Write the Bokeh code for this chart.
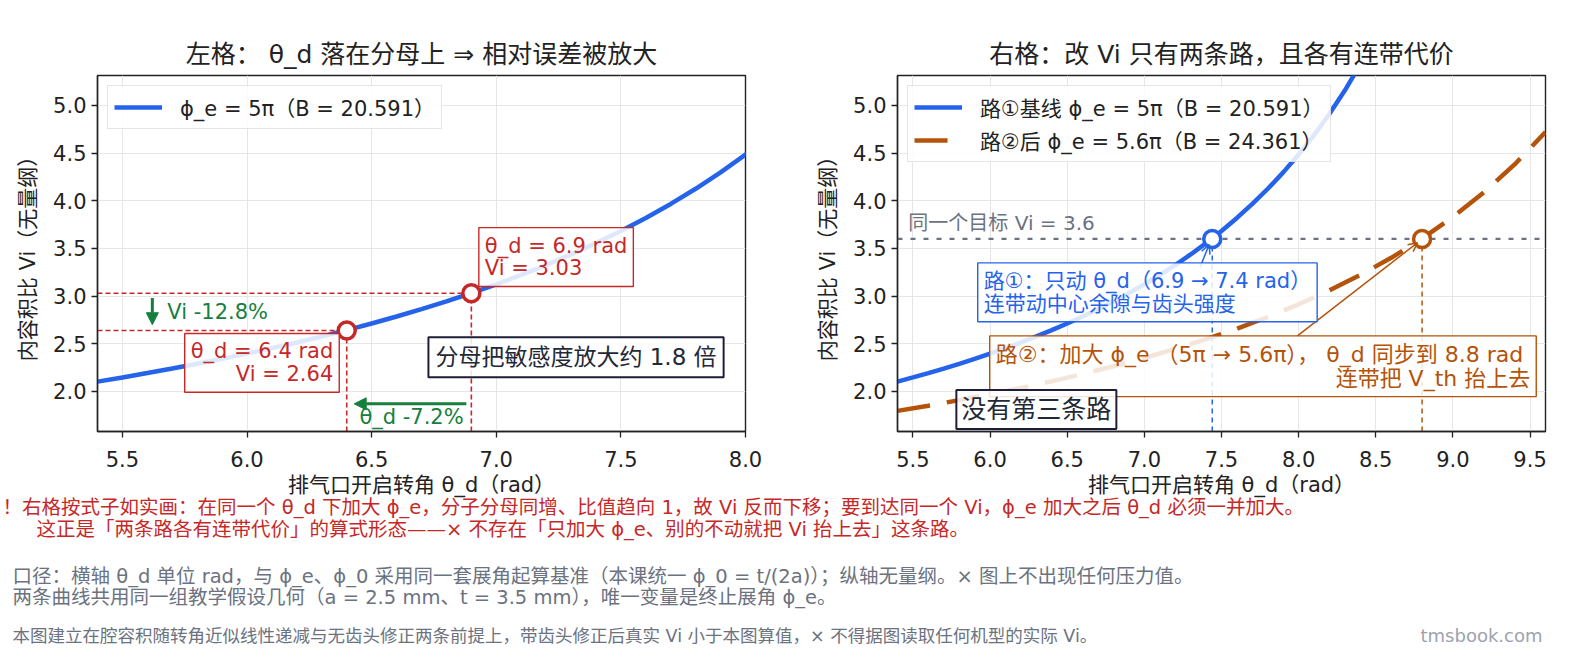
from bokeh.plotting import figure
from bokeh.models import Label, Arrow, NormalHead, OpenHead, Range1d, SingleIntervalTicker, NumeralTickFormatter
from bokeh.layouts import column, row
from bokeh.embed import file_html
from bokeh.resources import INLINE

FONT = "DejaVu Sans, Noto Sans CJK SC"
BLUE = "#2563eb"
ORANGE = "#b45309"
RED = "#c62828"
GREEN = "#15803d"
GRAY = "#6b7280"
INK = "#1f2937"

# 路① 基线 phi_e = 5pi 的曲线
theta_base = [5.4, 5.5, 5.6, 5.7, 5.8, 5.9, 6.0, 6.1, 6.2, 6.3, 6.4, 6.5, 6.6, 6.7, 6.8,
              6.9, 7.0, 7.1, 7.2, 7.3, 7.4, 7.5, 7.6, 7.7, 7.8, 7.9, 8.0, 8.1, 8.2, 8.3, 8.4]
vi_base = [2.103, 2.147, 2.193, 2.240, 2.290, 2.342, 2.397, 2.454, 2.514, 2.577, 2.643,
           2.713, 2.786, 2.863, 2.945, 3.032, 3.124, 3.222, 3.326, 3.437, 3.556, 3.683,
           3.820, 3.967, 4.126, 4.298, 4.485, 4.689, 4.913, 5.159, 5.432]

# 路② phi_e = 5.6pi
theta_wide = [5.4, 5.6, 5.8, 6.0, 6.2, 6.4, 6.6, 6.8, 7.0, 7.2, 7.4, 7.6, 7.8, 8.0,
              8.2, 8.4, 8.6, 8.8, 9.0, 9.2, 9.4, 9.6]
vi_wide = [1.796, 1.851, 1.909, 1.971, 2.037, 2.107, 2.183, 2.264, 2.351, 2.446, 2.548,
           2.659, 2.781, 2.914, 3.060, 3.222, 3.402, 3.603, 3.830, 4.087, 4.381, 4.720]

# 左格两个标注点
left_theta = [6.4, 6.9]
left_vi = [2.64, 3.03]

# 右格：同一个目标 Vi
target_vi = 3.6
path_theta = [7.44, 8.8]

Y_LO, Y_HI = 1.58, 5.314


def style(p, xlabel):
    p.title.text_font = FONT
    p.title.text_font_size = "25px"
    p.title.text_font_style = "normal"
    p.title.text_color = "#222222"
    p.title.align = "center"
    p.title.standoff = 14
    p.outline_line_color = "#222222"
    p.outline_line_width = 1.4
    for ax in p.axis:
        ax.major_label_text_font = FONT
        ax.major_label_text_font_size = "21px"
        ax.major_label_text_color = "#222222"
        ax.axis_label_text_font = FONT
        ax.axis_label_text_font_size = "21px"
        ax.axis_label_text_font_style = "normal"
        ax.axis_label_text_color = "#222222"
        ax.axis_line_color = "#222222"
        ax.axis_line_width = 1.4
        ax.major_tick_line_color = "#222222"
        ax.major_tick_line_width = 1.3
        ax.major_tick_out = 6
        ax.major_tick_in = 0
        ax.minor_tick_line_color = None
        ax.formatter = NumeralTickFormatter(format="0.0")
        ax.ticker = SingleIntervalTicker(interval=0.5)
    p.xaxis.axis_label = xlabel
    p.yaxis.axis_label = "内容积比 Vi（无量纲）"
    p.xaxis.major_label_standoff = 13
    p.yaxis.major_label_standoff = 5
    p.xaxis.axis_label_standoff = 3
    p.yaxis.axis_label_standoff = 10
    p.grid.grid_line_color = "#e6e6e6"
    p.grid.grid_line_width = 1


def box(p, x, y, text, color, align="left", size="21px", border=1.4, border_color=None, pad=6):
    lab = Label(x=x, y=y, text=text, text_font=FONT, text_font_size=size, text_color=color,
                text_align=align, text_baseline="middle", text_line_height=0.95,
                background_fill_color="white", background_fill_alpha=0.85,
                border_line_color=border_color or color, border_line_width=border, padding=pad)
    p.add_layout(lab)


def legend_style(p):
    lg = p.legend[0]
    lg.location = "top_left"
    lg.label_text_font = FONT
    lg.label_text_font_size = "21px"
    lg.label_text_color = "#222222"
    lg.glyph_width = 48
    lg.label_standoff = 18
    lg.border_line_color = "#cccccc"
    lg.border_line_width = 1.3
    lg.background_fill_alpha = 0.85
    lg.padding = 6
    lg.spacing = 3
    lg.margin = 10


# ---------------- 左格 ----------------
p1 = figure(width=808, height=512, x_range=Range1d(5.4, 8.0), y_range=Range1d(Y_LO, Y_HI),
            output_backend="svg", toolbar_location=None,
            title="左格： θ_d 落在分母上 ⇒ 相对误差被放大",
            min_border_left=97, min_border_right=63, min_border_top=75, min_border_bottom=81)
style(p1, "排气口开启转角 θ_d（rad）")

p1.line(theta_base, vi_base, line_color=BLUE, line_width=4.5, legend_label="ϕ_e = 5π（B = 20.591）")
p1.segment(x0=[5.4] * 2, y0=left_vi, x1=left_theta, y1=left_vi,
           line_color=RED, line_width=1.6, line_dash="5 3")
p1.segment(x0=left_theta, y0=[Y_LO] * 2, x1=left_theta, y1=left_vi,
           line_color=RED, line_width=1.6, line_dash="5 3")
p1.scatter(left_theta, left_vi, size=17, marker="circle", fill_color="white",
           line_color=RED, line_width=3.5)

box(p1, 6.93, 3.41, "θ_d = 6.9 rad\nVi = 3.03", RED)
box(p1, 6.37, 2.30, "θ_d = 6.4 rad\nVi = 2.64", RED, align="right")
box(p1, 7.32, 2.36, "分母把敏感度放大约 1.8 倍", INK, align="center", size="23px",
    border=2, border_color="#1e1e3a", pad=7)

p1.add_layout(Arrow(end=NormalHead(size=12, fill_color=GREEN, line_color=GREEN),
                    x_start=5.62, y_start=2.98, x_end=5.62, y_end=2.70,
                    line_color=GREEN, line_width=3))
p1.add_layout(Label(x=5.68, y=2.83, text="Vi -12.8%", text_font=FONT, text_font_size="21px",
                    text_color=GREEN, text_baseline="middle"))
p1.add_layout(Arrow(end=NormalHead(size=12, fill_color=GREEN, line_color=GREEN),
                    x_start=6.88, y_start=1.87, x_end=6.43, y_end=1.87,
                    line_color=GREEN, line_width=3))
p1.add_layout(Label(x=6.66, y=1.73, text="θ_d -7.2%", text_font=FONT, text_font_size="21px",
                    text_color=GREEN, text_align="center", text_baseline="middle"))
legend_style(p1)

# ---------------- 右格 ----------------
p2 = figure(width=759, height=512, x_range=Range1d(5.4, 9.6), y_range=Range1d(Y_LO, Y_HI),
            output_backend="svg", toolbar_location=None,
            title="右格：改 Vi 只有两条路，且各有连带代价",
            min_border_left=89, min_border_right=22, min_border_top=75, min_border_bottom=81)
style(p2, "排气口开启转角 θ_d（rad）")

p2.line([5.4, 9.6], [target_vi, target_vi], line_color=GRAY, line_width=2.2, line_dash="5 8")
p2.line(theta_base, vi_base, line_color=BLUE, line_width=4.5,
        legend_label="路①基线 ϕ_e = 5π（B = 20.591）")
p2.line(theta_wide, vi_wide, line_color=ORANGE, line_width=4.5, line_dash="33 17",
        legend_label="路②后 ϕ_e = 5.6π（B = 24.361）")
p2.segment(x0=path_theta[:1], y0=[Y_LO], x1=path_theta[:1], y1=[target_vi],
           line_color=BLUE, line_width=1.5, line_dash="5 4")
p2.segment(x0=path_theta[1:], y0=[Y_LO], x1=path_theta[1:], y1=[target_vi],
           line_color=ORANGE, line_width=1.5, line_dash="5 4")
p2.scatter(path_theta[:1], [target_vi], size=17, marker="circle", fill_color="white",
           line_color=BLUE, line_width=3.5)
p2.scatter(path_theta[1:], [target_vi], size=17, marker="circle", fill_color="white",
           line_color=ORANGE, line_width=3.5)

p2.add_layout(Label(x=5.47, y=3.77, text="同一个目标 Vi = 3.6", text_font=FONT,
                    text_font_size="20px", text_color=GRAY, text_baseline="middle"))
p2.add_layout(Arrow(end=OpenHead(size=9, line_color=BLUE, line_width=1.5),
                    x_start=7.36, y_start=3.30, x_end=7.42, y_end=3.54,
                    line_color=BLUE, line_width=1.5))
p2.add_layout(Arrow(end=OpenHead(size=9, line_color=ORANGE, line_width=1.5),
                    x_start=7.99, y_start=2.58, x_end=8.77, y_end=3.56,
                    line_color=ORANGE, line_width=1.5))
box(p2, 5.92, 3.04, "路①：只动 θ_d（6.9 → 7.4 rad）\n连带动中心余隙与齿头强度", BLUE)
box(p2, 9.54, 2.264, "路②：加大 ϕ_e （5π → 5.6π），  θ_d 同步到 8.8 rad\n连带把 V_th 抬上去",
    ORANGE, align="right", size="22px")
box(p2, 6.30, 1.81, "没有第三条路", INK, align="center", size="25px",
    border=2, border_color="#1e1e3a", pad=5)
legend_style(p2)

# ---------------- 脚注 ----------------
notes = figure(width=1567, height=170, x_range=Range1d(0, 1567), y_range=Range1d(0, 170),
               output_backend="svg", toolbar_location=None, x_axis_type=None, y_axis_type=None,
               min_border=0, outline_line_color=None, margin=(-24, 0, 0, 0))
notes.grid.visible = False
notes.background_fill_alpha = 0
notes.border_fill_alpha = 0

note_lines = [
    (2, 151, "！右格按式子如实画：在同一个 θ_d 下加大 ϕ_e，分子分母同增、比值趋向 1，故 Vi 反而下移；要到达同一个 Vi，ϕ_e 加大之后 θ_d 必须一并加大。", RED, "19.5px"),
    (36, 129, "这正是「两条路各有连带代价」的算式形态——× 不存在「只加大 ϕ_e、别的不动就把 Vi 抬上去」这条路。", RED, "19.5px"),
    (12, 82, "口径：横轴 θ_d 单位 rad，与 ϕ_e、ϕ_0 采用同一套展角起算基准（本课统一 ϕ_0 = t/(2a)）；纵轴无量纲。× 图上不出现任何压力值。", GRAY, "19.5px"),
    (12, 61, "两条曲线共用同一组教学假设几何（a = 2.5 mm、t = 3.5 mm），唯一变量是终止展角 ϕ_e。", GRAY, "19.5px"),
    (12, 23, "本图建立在腔容积随转角近似线性递减与无齿头修正两条前提上，带齿头修正后真实 Vi 小于本图算值，× 不得据图读取任何机型的实际 Vi。", GRAY, "17.5px"),
]
for x, y, t, c, s in note_lines:
    notes.add_layout(Label(x=x, y=y, text=t, text_font=FONT, text_font_size=s,
                           text_color=c, text_baseline="middle"))
notes.add_layout(Label(x=1542, y=23, text="tmsbook.com", text_font=FONT, text_font_size="18px",
                       text_color="#9ca3af", text_align="right", text_baseline="middle"))

layout = column(row(p1, p2), notes)
open("out.html", "w").write(file_html(layout, INLINE))
